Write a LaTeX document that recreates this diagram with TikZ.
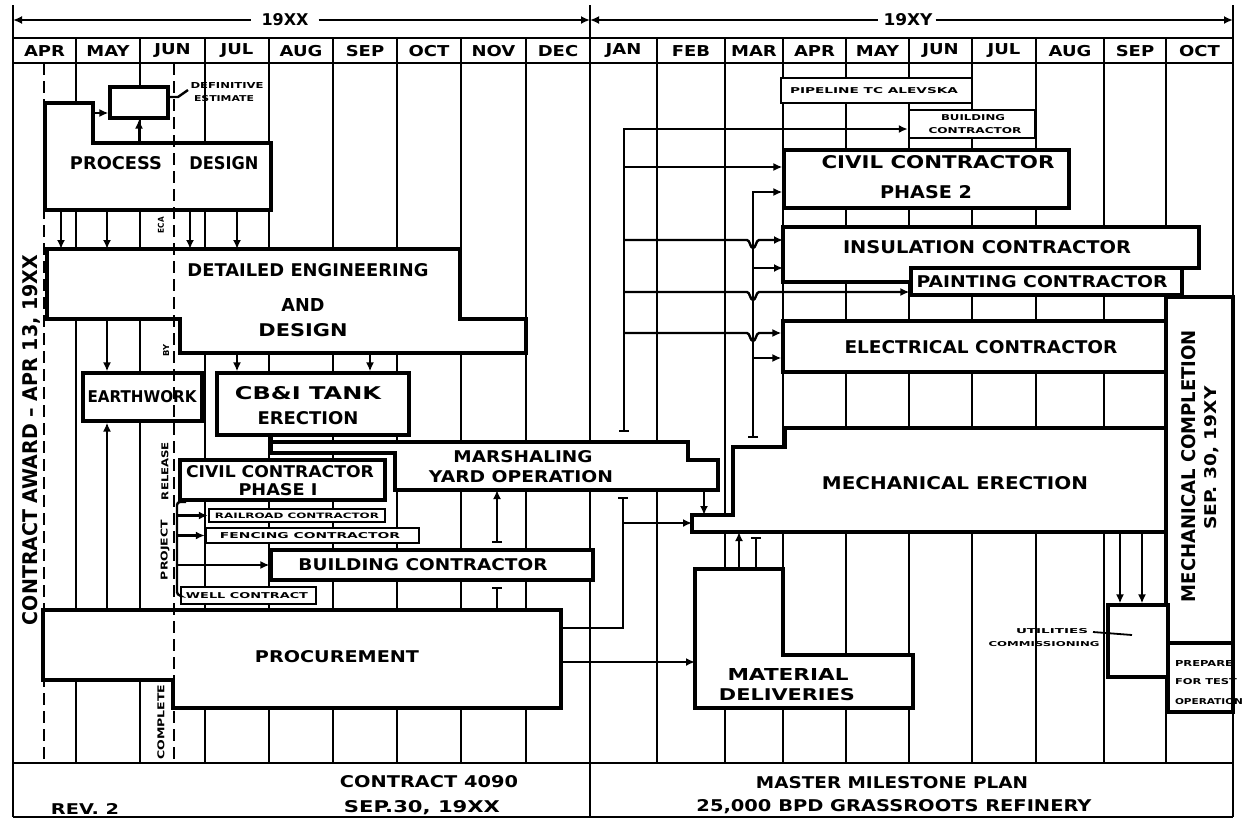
\documentclass[tikz,border=0pt]{standalone}
\usepackage{fontspec}
\usepackage{graphicx}
\newfontfamily\lf{DejaVu Sans}
\usetikzlibrary{arrows.meta,fit}
\newcommand\tx[3]{\resizebox{#1pt}{#2pt}{\lf\bfseries #3}}
\newcommand\hd[1]{\scalebox{1.2}[1]{\fontsize{15}{15}\selectfont\lf\bfseries #1}}
\begin{document}
\begin{tikzpicture}[x=1pt,y=-1pt,
  frame/.style={line width=2.6pt},
  grid/.style={line width=2pt},
  box/.style={draw, line width=3.2pt, fill=white, inner sep=0pt},
  thinbox/.style={box, line width=2.4pt},
  conn/.style={line width=2.4pt},
  arr/.style={conn, -{Latex[length=9pt,width=8pt]}},
  barend/.style={conn, -{Bar[width=10pt]}},
  bararr/.style={conn, {Bar[width=10pt]}-{Latex[length=9pt,width=8pt]}},
  lbl/.style={inner sep=0pt, anchor=center},
  milestone/.style={line width=2.8pt, dash pattern=on 12pt off 6pt},
]
\useasboundingbox (0,0) rectangle (1245,820);
\fill[white] (0,0) rectangle (1245,820);

% ---------- grid ----------
\foreach \x in {76,140,205,269,333,397,461,526,657,725,783,846,909,972,1036,1104,1166}
  \draw[grid] (\x,38) -- (\x,763);
\draw[frame] (590,5) -- (590,817);
\draw[frame] (13,5) -- (13,817);
\draw[frame] (1233,5) -- (1233,817);
\draw[frame] (13,38) -- (1233,38);
\draw[frame] (13,63) -- (1233,63);
\draw[frame] (13,763) -- (1233,763);
\draw[frame] (13,817) -- (1233,817);

% ---------- header ----------
\foreach \m/\c [count=\i] in {APR/44.5,MAY/108,JUN/172.5,JUL/237,AUG/301,SEP/365,OCT/429,NOV/493.5,DEC/558,JAN/623.5,FEB/691,MAR/754,APR/814.5,MAY/877.5,JUN/940.5,JUL/1004,AUG/1070,SEP/1135,OCT/1199.5}
  \node[lbl] (mon\i) at (\c,51) {\hd{\m}};
\node[lbl] (yxx) at (285,20) {\tx{47}{12}{19XX}};
\node[lbl] (yxy) at (908,20) {\tx{49}{12}{19XY}};
\coordinate (tl) at (13,20);
\coordinate (tm) at (590,20);
\coordinate (tr) at (1233,20);
\draw[conn, {Latex[length=9pt,width=8pt]}-] (tl) -- ([xshift=-10pt]yxx.west);
\draw[arr] ([xshift=10pt]yxx.east) -- (tm);
\draw[conn, {Latex[length=9pt,width=8pt]}-] (tm) -- ([xshift=-5pt]yxy.west);
\draw[arr] ([xshift=3pt]yxy.east) -- (tr);

% ---------- boxes 19XX ----------
\node[box, fit={(110,87) (168,118)}] (est) {};
\draw[box] (45,103) -- (93,103) coordinate (pdn) -- (93,143) -- (271,143) -- (271,210) coordinate (pdb) -- (45,210) -- cycle;
\draw[box] (47,249) coordinate (det) -- (460,249) -- (460,319) -- (526,319) -- (526,353) coordinate (deb) -- (180,353) -- (180,319) coordinate (delb) -- (47,319) -- cycle;
\node[box, fit={(83,373) (202,421)}] (earth) {};
\node[box, fit={(217,373) (409,435)}] (cbi) {};
\draw[line width=3.2pt] (271,435) -- (271,443);
\draw[box] (271,442) -- (688,442) -- (688,460) -- (718,460) -- (718,490) coordinate (msb) -- (395,490) -- (395,453) -- (271,453) -- cycle;
\node[box, fit={(180,460) (385,500)}] (civ1) {};
\node[thinbox, fit={(209,509) (385,522)}] (rail) {};
\node[thinbox, fit={(206,528) (419,543)}] (fence) {};
\node[box, fit={(271,550) (593,580)}] (bld) {};
\node[thinbox, fit={(181,587) (316,604)}] (well) {};
\draw[box] (43,610) coordinate (prt) -- (561,610) coordinate (prr) -- (561,708) -- (173,708) -- (173,680) -- (43,680) -- cycle;

% ---------- boxes 19XY ----------
\node[thinbox, fit={(781,78) (972,103)}] (pipe) {};
\node[thinbox, fit={(909,110) (1035,138)}] (bldg2) {};
\node[box, fit={(784,150) (1069,208)}] (civ2) {};
\draw[box] (783,227) coordinate (ins) -- (1199,227) -- (1199,268) -- (911,268) -- (911,282) -- (783,282) -- cycle;
\node[box, fit={(911,268) (1182,295)}] (paint) {};
\node[box, fit={(783,321) (1166,372)}] (elec) {};
\node[box, fit={(1166,297) (1233,643)}] (mcomp) {};
\draw[box] (785,428) -- (1166,428) -- (1166,532) coordinate (meb) -- (692,532) -- (692,515) coordinate (men) -- (733,515) -- (733,447) -- (785,447) -- cycle;
\draw[box] (695,569) coordinate (mdt) -- (783,569) -- (783,655) -- (913,655) -- (913,708) -- (695,708) -- cycle;
\node[box, fit={(1108,605) (1168,677)}] (util) {};
\node[box, fit={(1168,643) (1233,712)}] (prep) {};

% ---------- milestone lines ----------
\draw[milestone] (44,63) -- (44,763);
\draw[milestone] (174,63) -- (174,763);

% ---------- connectors 19XX ----------
\draw[arr] (pdn |- 0,113) -- (est.west |- 0,113);
\draw[arr] (est.south |- 0,143) -- (est.south);
\draw[conn] (est.east |- 0,97) -- (178,97) -- (188,90);
\foreach \x in {61,107,190,237}
  \draw[arr] (\x,0 |- pdb) -- (\x,0 |- det);
\draw[arr] (107,0 |- delb) -- (107,0 |- earth.north);
\draw[arr] (237,0 |- deb) -- (237,0 |- cbi.north);
\draw[arr] (370,0 |- deb) -- (370,0 |- cbi.north);
\draw[arr] (107,0 |- prt) -- (107,0 |- earth.south);
\draw[conn, rounded corners=3pt] (186,502) -- (177,502) -- (177,595) -- (well.west);
\draw[arr] (177,0 |- rail.west) -- (rail.west);
\draw[arr] (177,0 |- fence.west) -- (fence.west);
\draw[arr] (177,0 |- bld.west) -- (bld.west);
\draw[bararr] (497,543) -- (497,0 |- msb);
\draw[barend] (497,0 |- prt) -- (497,587);
\draw[barend] (prr |- 0,628) -- (623,628) -- (623,497);
\draw[arr] (623,523) -- (692,523);
\draw[arr] (prr |- 0,662) -- (mdt |- 0,662);
\draw[arr] (704,0 |- msb) -- (704,0 |- men);
\draw[arr] (739,0 |- mdt) -- (739,0 |- meb);
\draw[barend] (756,0 |- mdt) -- (756,537);
\draw[arr] (1120,0 |- meb) -- (1120,0 |- util.north);
\draw[arr] (1142,0 |- meb) -- (1142,0 |- util.north);
\draw[conn, line width=1.8pt] (1093,632) -- (1132,635);

% ---------- buses 19XY ----------
\draw[bararr] (624,432) -- (624,129) -- (bldg2.west |- 0,129);
\draw[arr] (624,167) -- (civ2.west |- 0,167);
\draw[bararr] (753,438) -- (753,192) -- (civ2.west |- 0,192);
\draw[arr] (624,240) -- (747,240) .. controls (750,240) and (750,248) .. (753,248) .. controls (756,248) and (756,240) .. (759,240) -- (ins |- 0,240);
\draw[arr] (753,268) -- (ins |- 0,268);
\draw[arr] (624,292) -- (747,292) .. controls (750,292) and (750,300) .. (753,300) .. controls (756,300) and (756,292) .. (759,292) -- (paint.west |- 0,292);
\draw[arr] (624,333) -- (747,333) .. controls (750,333) and (750,341) .. (753,341) .. controls (756,341) and (756,333) .. (759,333) -- (elec.west |- 0,333);
\draw[arr] (753,358) -- (elec.west |- 0,358);

% ---------- labels ----------
\node[lbl] (tproc) at (116,163) {\tx{92}{13}{PROCESS}};
\node[lbl] (tdes) at (224,163) {\tx{69}{13}{DESIGN}};
\node[lbl] (tde1) at (308,270) {\tx{241}{13}{DETAILED ENGINEERING}};
\node[lbl] (tde2) at (303,305) {\tx{43}{13}{AND}};
\node[lbl] (tde3) at (303,330) {\tx{89}{13}{DESIGN}};
\node[lbl] (tdef1) at (227,85) {\tx{73}{6}{DEFINITIVE}};
\node[lbl] (tdef2) at (224,99) {\tx{60}{6}{ESTIMATE}};
\node[lbl] (tearth) at (142,397) {\tx{109}{12}{EARTHWORK}};
\node[lbl] (tcb1) at (308,393) {\tx{146}{13}{CB\&I TANK}};
\node[lbl] (tcb2) at (308,418) {\tx{101}{13}{ERECTION}};
\node[lbl] (tms1) at (523,457) {\tx{139}{12}{MARSHALING}};
\node[lbl] (tms2) at (521,477) {\tx{184}{12}{YARD OPERATION}};
\node[lbl] (tcv1a) at (280,472) {\tx{188}{12}{CIVIL CONTRACTOR}};
\node[lbl] (tcv1b) at (278,490) {\tx{79}{12}{PHASE I}};
\node[lbl] (trail) at (297,515.5) {\tx{164}{5.5}{RAILROAD CONTRACTOR}};
\node[lbl] (tfence) at (310,535.5) {\tx{180}{6}{FENCING CONTRACTOR}};
\node[lbl] (tbld) at (423,565) {\tx{249}{12}{BUILDING CONTRACTOR}};
\node[lbl] (twell) at (247,595.5) {\tx{122}{6}{WELL CONTRACT}};
\node[lbl] (tproc2) at (337,657) {\tx{164}{12}{PROCUREMENT}};
\node[lbl] (tpipe) at (874,91) {\tx{168}{6}{PIPELINE TC ALEVSKA}};
\node[lbl] (tb2a) at (973,118) {\tx{64}{6}{BUILDING}};
\node[lbl] (tb2b) at (975,131) {\tx{93}{6}{CONTRACTOR}};
\node[lbl] (tcv2a) at (938,162) {\tx{233}{13}{CIVIL CONTRACTOR}};
\node[lbl] (tcv2b) at (926,192) {\tx{92}{13}{PHASE 2}};
\node[lbl] (tins) at (987,247) {\tx{288}{13}{INSULATION CONTRACTOR}};
\node[lbl] (tpaint) at (1042,282) {\tx{251}{12}{PAINTING CONTRACTOR}};
\node[lbl] (telec) at (981,347) {\tx{273}{13}{ELECTRICAL CONTRACTOR}};
\node[lbl] (tmech) at (955,483) {\tx{266}{13}{MECHANICAL ERECTION}};
\node[lbl] (tmat1) at (788,674) {\tx{121}{12}{MATERIAL}};
\node[lbl] (tmat2) at (787,695) {\tx{136}{12}{DELIVERIES}};
\node[lbl] (tut1) at (1052,631) {\tx{72}{5}{UTILITIES}};
\node[lbl] (tut2) at (1044,644) {\tx{111}{5}{COMMISSIONING}};
\node[lbl] (tpr1) at (1204,663) {\tx{58}{6}{PREPARE}};
\node[lbl] (tpr2) at (1206,682) {\tx{62}{6}{FOR TEST}};
\node[lbl] (tpr3) at (1209,702) {\tx{68}{6}{OPERATION}};
\node[lbl, rotate=90] (tca) at (31,440) {\tx{370}{15}{CONTRACT AWARD – APR 13, 19XX}};
\node[lbl, rotate=90] (tmc1) at (1189,466) {\tx{272}{14}{MECHANICAL COMPLETION}};
\node[lbl, rotate=90] (tmc2) at (1212,458) {\tx{143}{12}{SEP. 30, 19XY}};
\node[lbl, rotate=90] (teca) at (161,225) {\tx{16}{6}{ECA}};
\node[lbl, rotate=90] (tby) at (166,350) {\tx{12}{6}{BY}};
\node[lbl, rotate=90] (trel) at (165,471) {\tx{58}{7}{RELEASE}};
\node[lbl, rotate=90] (tproj) at (165,550) {\tx{60}{7}{PROJECT}};
\node[lbl, rotate=90] (tcomp) at (161,722) {\tx{75}{7}{COMPLETE}};
\node[lbl] (tc1) at (429,782) {\tx{178}{12}{CONTRACT 4090}};
\node[lbl] (tc2) at (422,808) {\tx{156}{12}{SEP.30, 19XX}};
\node[lbl] (trev) at (85,809) {\tx{68}{11}{REV. 2}};
\node[lbl] (tm1) at (892,783) {\tx{272}{12}{MASTER MILESTONE PLAN}};
\node[lbl] (tm2) at (894,807) {\tx{395}{12}{25,000 BPD GRASSROOTS REFINERY}};
\end{tikzpicture}
\end{document}
